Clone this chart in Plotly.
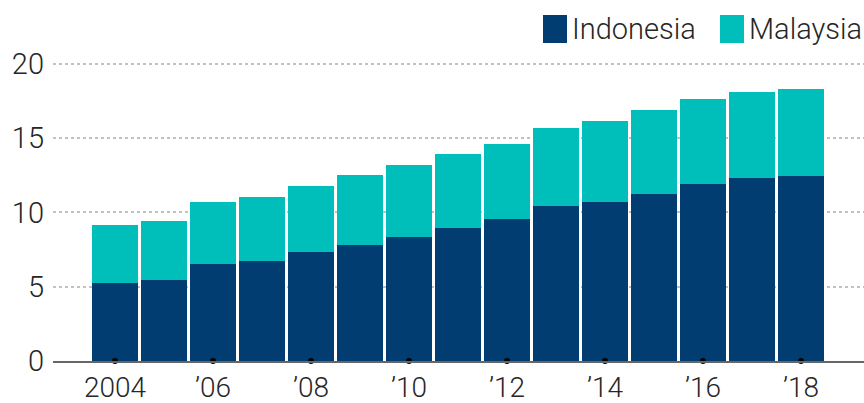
import plotly.graph_objects as go

# Annual output by country, stacked
years = list(range(2004, 2019))
indonesia = [5.23, 5.43, 6.53, 6.73, 7.32, 7.81, 8.35, 8.98, 9.54, 10.44, 10.73, 11.25, 11.90, 12.30, 12.44]
malaysia = [3.89, 4.02, 4.17, 4.29, 4.48, 4.71, 4.85, 4.96, 5.05, 5.23, 5.39, 5.61, 5.70, 5.79, 5.83]

tick_years = [2004, 2006, 2008, 2010, 2012, 2014, 2016, 2018]
tick_text = ["2004", "\u201906", "\u201908", "\u201910", "\u201912", "\u201914", "\u201916", "\u201918"]
y_ticks = [0, 5, 10, 15, 20]

NAVY = "#023d72"
TEAL = "#00bfbb"
FONT = "Roboto, sans-serif"
TEXT = "#262626"

fig = go.Figure()
fig.add_trace(go.Bar(x=years, y=indonesia, name="Indonesia", marker=dict(color=NAVY, line=dict(width=0)),
                     showlegend=False))
fig.add_trace(go.Bar(x=years, y=malaysia, name="Malaysia", marker=dict(color=TEAL, line=dict(width=0)),
                     showlegend=False))
# small dots marking the labelled years on the baseline
fig.add_trace(go.Scatter(x=tick_years, y=[0] * len(tick_years), mode="markers",
                         marker=dict(color="black", size=6), cliponaxis=False,
                         showlegend=False, hoverinfo="skip"))

fig.update_layout(
    barmode="stack",
    bargap=0.08,
    width=864, height=403,
    margin=dict(l=53, r=0, t=34, b=42),
    paper_bgcolor="white", plot_bgcolor="white",
    font=dict(family=FONT, color=TEXT, size=29, weight=300),
    xaxis=dict(range=[2002.735, 2019.286], tickvals=tick_years, ticktext=tick_text,
               showgrid=False, showline=True, linecolor="#666", linewidth=2,
               ticks="", ticklabelstandoff=0, automargin=False,
               tickfont=dict(size=28, color=TEXT, family=FONT, weight=300)),
    yaxis=dict(range=[0, 22], tickvals=y_ticks, showgrid=True, gridcolor="#c2c2c2",
               griddash="dot", gridwidth=1.5, zeroline=False, ticks="",
               ticklabelstandoff=8, automargin=False,
               tickfont=dict(size=29, color=TEXT, family=FONT, weight=300)),
)

# legend drawn as swatches and labels in the top-right corner
legend_items = [("Indonesia", NAVY, 543), ("Malaysia", TEAL, 720)]
for label, color, x0 in legend_items:
    fig.add_shape(type="rect", xref="paper", yref="paper",
                  x0=(x0 - 53) / 811, x1=(x0 + 24 - 53) / 811,
                  y0=(361 - 43) / 327, y1=(361 - 15) / 327,
                  fillcolor=color, line=dict(width=0), layer="above")
    fig.add_annotation(text=label, xref="paper", yref="paper",
                       x=(x0 + 27 - 53) / 811, y=(361 - 29) / 327,
                       xanchor="left", yanchor="middle", showarrow=False,
                       font=dict(size=29, color=TEXT, family=FONT, weight=300))

fig.write_html("out.html")
